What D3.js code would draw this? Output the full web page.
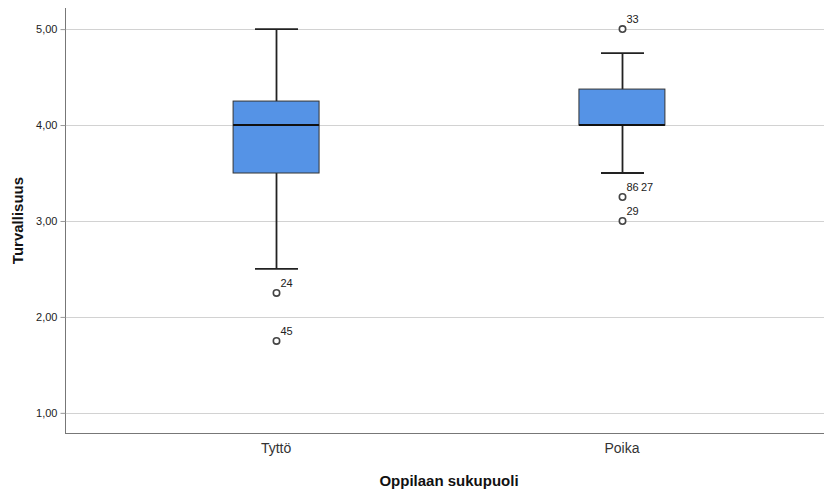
<!DOCTYPE html>
<html>
<head>
<meta charset="utf-8">
<script src="https://cdn.jsdelivr.net/npm/d3@7"></script>
<style>
  body { margin: 0; background: #fff; }
  text { font-family: "Liberation Sans", Arial, sans-serif; }
  .grid line { stroke: #d2d2d2; stroke-width: 1; }
  .box { fill: #5593e6; stroke: #333; stroke-width: 1; }
  .whisker { stroke: #222; stroke-width: 1.8; }
  .median { stroke: #111; stroke-width: 2; }
  .outlier { fill: #fff; stroke: #444; stroke-width: 1.6; }
</style>
</head>
<body>
<svg id="chart" width="826" height="494"></svg>
<script>
// data
var categories = ["Tyttö", "Poika"];
var whiskerLow = [2.5, 3.5];
var q1 = [3.5, 4.0];
var medians = [4.0, 4.0];
var q3 = [4.25, 4.375];
var whiskerHigh = [5.0, 4.75];
var outliers = [
  { cat: "Tyttö", value: 2.25, label: "24" },
  { cat: "Tyttö", value: 1.75, label: "45" },
  { cat: "Poika", value: 5.0, label: "33" },
  { cat: "Poika", value: 3.25, label: "86 27" },
  { cat: "Poika", value: 3.0, label: "29" }
];
var yTicks = [1, 2, 3, 4, 5];

var svg = d3.select("#chart");
var plotL = 65, plotR = 824, plotT = 8, plotB = 433;

var x = d3.scaleBand().domain(categories).range([74, plotR]).paddingInner(0.7514).paddingOuter(0.46);
var y = d3.scaleLinear().domain([0.79, 5.22]).range([plotB, plotT]);

var fmt = function(d){ return d3.format(".2f")(d).replace(".", ","); };

// grid
svg.append("g").attr("class", "grid")
  .selectAll("line").data(yTicks).enter().append("line")
  .attr("x1", plotL).attr("x2", plotR)
  .attr("y1", function(d){ return Math.round(y(d)) + 0.5; })
  .attr("y2", function(d){ return Math.round(y(d)) + 0.5; });

// y axis
var yAxis = svg.append("g")
  .attr("transform", "translate(" + (plotL + 0.5) + ",0)")
  .call(d3.axisLeft(y).tickValues(yTicks).tickFormat(fmt).tickSize(5).tickPadding(3));
yAxis.select(".domain").attr("stroke", "#777").attr("d", "M0," + plotT + "V" + plotB);
yAxis.selectAll(".tick line").attr("stroke", "#999");
yAxis.selectAll(".tick text").attr("fill", "#222").style("font-size", "11px");

// x axis
var xAxis = svg.append("g")
  .attr("transform", "translate(0," + (plotB + 0.5) + ")")
  .call(d3.axisBottom(x).tickSize(0).tickPadding(10));
xAxis.select(".domain").attr("stroke", "#777").attr("d", "M" + plotL + ",0H" + plotR);
xAxis.selectAll(".tick text").attr("fill", "#333").style("font-size", "14px");

// titles
svg.append("text")
  .attr("transform", "translate(23," + ((plotT + plotB) / 2) + ") rotate(-90)")
  .attr("text-anchor", "middle")
  .style("font-size", "15px").style("font-weight", "bold").attr("fill", "#111")
  .text("Turvallisuus");
svg.append("text")
  .attr("x", 449).attr("y", 486)
  .attr("text-anchor", "middle")
  .style("font-size", "15px").style("font-weight", "bold").attr("fill", "#111")
  .text("Oppilaan sukupuoli");

// boxes
var cx = function(i){ return Math.round(x(categories[i]) + x.bandwidth() / 2) + 0.5; };
var capW = x.bandwidth() / 4;
var g = svg.append("g");
categories.forEach(function(c, i){
  var m = cx(i);
  g.append("line").attr("class", "whisker")
    .attr("x1", m).attr("x2", m).attr("y1", y(whiskerHigh[i])).attr("y2", y(whiskerLow[i]));
  [whiskerHigh[i], whiskerLow[i]].forEach(function(v){
    g.append("line").attr("class", "whisker")
      .attr("x1", m - capW).attr("x2", m + capW).attr("y1", y(v)).attr("y2", y(v));
  });
  g.append("rect").attr("class", "box")
    .attr("x", x(c)).attr("width", x.bandwidth())
    .attr("y", y(q3[i])).attr("height", y(q1[i]) - y(q3[i]));
  g.append("line").attr("class", "median")
    .attr("x1", x(c)).attr("x2", x(c) + x.bandwidth())
    .attr("y1", y(medians[i])).attr("y2", y(medians[i]));
});

// outliers
outliers.forEach(function(o){
  var m = cx(categories.indexOf(o.cat));
  g.append("circle").attr("class", "outlier")
    .attr("cx", m).attr("cy", y(o.value)).attr("r", 3.2);
  g.append("text")
    .attr("x", m + 4).attr("y", y(o.value) - 6)
    .style("font-size", "11px").attr("fill", "#222")
    .text(o.label.replace(" ", "\u2009"));
});
</script>
</body>
</html>
